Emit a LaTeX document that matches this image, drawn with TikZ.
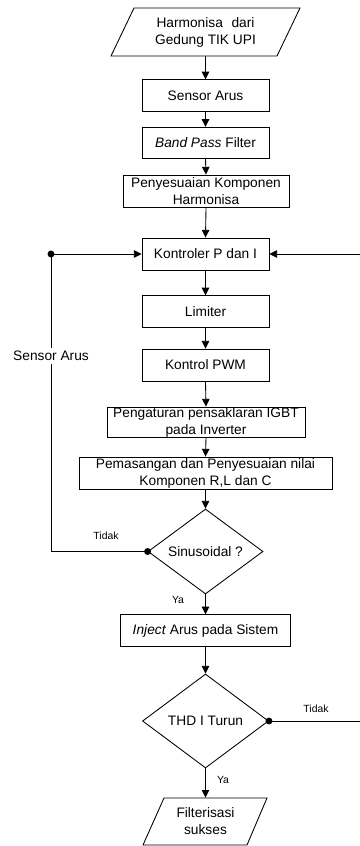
\documentclass[tikz,border=0pt]{standalone}
\usepackage{fontspec}
\setmainfont{Liberation Sans}
\usetikzlibrary{shapes.geometric,arrows.meta,calc}
\begin{document}
\begin{tikzpicture}[x=0.75pt,y=-0.75pt,
  every node/.style={font=\fontsize{10.3}{12.7}\selectfont, inner sep=0pt},
  line/.style={line width=0.65pt, draw=black},
  arr/.style={line, -{Triangle[length=5.8pt,width=5.6pt]}},
  procbox/.style={rectangle, line, align=center, minimum height=31.5*0.75pt},
  decbox/.style={diamond, line, align=center},
  iobox/.style={rectangle, draw=none, align=center},
  small/.style={font=\fontsize{7.8}{9}\selectfont},
  dotc/.style={circle, fill=black, minimum size=5.2pt, inner sep=0pt}]
\useasboundingbox (0,0) rectangle (360,846);

% input parallelogram
\node[iobox, minimum width=166*0.75pt, minimum height=48*0.75pt] (start) at (205.5,32) {Harmonisa\hspace{0.35em} dari\\Gedung TIK UPI};
\draw[line] ($(start.center)+(-71.5,-24)$) -- ($(start.center)+(94.5,-24)$) -- ($(start.center)+(71.5,24)$) -- ($(start.center)+(-94.5,24)$) -- cycle;

\node[procbox, minimum width=127*0.75pt] (sensor) at (205.5,95.5) {Sensor Arus};
\node[procbox, minimum width=127*0.75pt] (bpf) at (205.5,143) {\textit{Band Pass} Filter};
\node[procbox, minimum width=166*0.75pt, minimum height=32*0.75pt] (penyes) at (206,191) {Penyesuaian Komponen\\Harmonisa};
\node[procbox, minimum width=127*0.75pt, minimum height=32*0.75pt] (kpi) at (205.5,254) {Kontroler P dan I};
\node[procbox, minimum width=127*0.75pt] (lim) at (205.5,311.5) {Limiter};
\node[procbox, minimum width=127*0.75pt, minimum height=32*0.75pt] (pwm) at (205.5,365) {Kontrol PWM};
\node[procbox, minimum width=198*0.75pt, minimum height=30*0.75pt] (igbt) at (206,422) {Pengaturan pensaklaran IGBT\\pada Inverter};
\node[procbox, minimum width=253*0.75pt, minimum height=32*0.75pt] (pasang) at (205.5,473) {Pemasangan dan Penyesuaian nilai\\Komponen R,L dan C};
\node[decbox, minimum width=115*0.75pt, minimum height=85*0.75pt] (sinus) at (205.5,551.5) {Sinusoidal ?};
\node[procbox, minimum width=170*0.75pt] (inject) at (205.5,630.5) {\textit{Inject} Arus pada Sistem};
\node[decbox, minimum width=126*0.75pt, minimum height=94*0.75pt] (thd) at (205.5,721) {THD I Turun};

% output parallelogram
\node[iobox, minimum width=103*0.75pt, minimum height=47*0.75pt] (fin) at (205.5,821.5) {Filterisasi\\sukses};
\draw[line] ($(fin.center)+(-41.5,-23.5)$) -- ($(fin.center)+(61.5,-23.5)$) -- ($(fin.center)+(41.5,23.5)$) -- ($(fin.center)+(-62.5,23.5)$) -- cycle;

% main flow
\draw[arr] (start.south) -- (sensor.north);
\draw[arr] (sensor.south) -- (bpf.north);
\draw[arr] (bpf.south) -- (penyes.north);
\draw[arr] (penyes.south) -- (kpi.north);
\draw[arr] (kpi.south) -- (lim.north);
\draw[arr] (lim.south) -- (pwm.north);
\draw[arr] (pwm.south) -- (igbt.north);
\draw[arr] (igbt.south) -- (pasang.north);
\draw[arr] (pasang.south) -- (sinus.north);
\draw[arr] (sinus.south) -- (inject.north);
\draw[arr] (inject.south) -- (thd.north);
\draw[arr] (thd.south) -- (fin.north);

% left feedback loop
\coordinate (lcorner) at (51,551.5);
\coordinate (ltop) at (51,254);
\node[dotc] (ldotb) at (sinus.west) {};
\node[dotc] (ldott) at (ltop) {};
\draw[line] (sinus.west) -- (lcorner) -- (ltop);
\draw[arr] (ltop) -- (kpi.west);
\node[fill=white, inner xsep=1pt, inner ysep=2pt] (sensorlbl) at (51,356) {Sensor Arus};

% right feedback loop
\coordinate (rcorner) at (362,721);
\coordinate (rtop) at (362,254);
\node[dotc] (rdot) at (thd.east) {};
\draw[line] (thd.east) -- (rcorner) -- (rtop);
\draw[arr] (rtop) -- (kpi.east);

% labels
\node[small] (tidak1) at (106,536) {Tidak};
\node[small] (ya1) at (178,600) {Ya};
\node[small] (tidak2) at (316,709) {Tidak};
\node[small] (ya2) at (223,780) {Ya};
\end{tikzpicture}
\end{document}
